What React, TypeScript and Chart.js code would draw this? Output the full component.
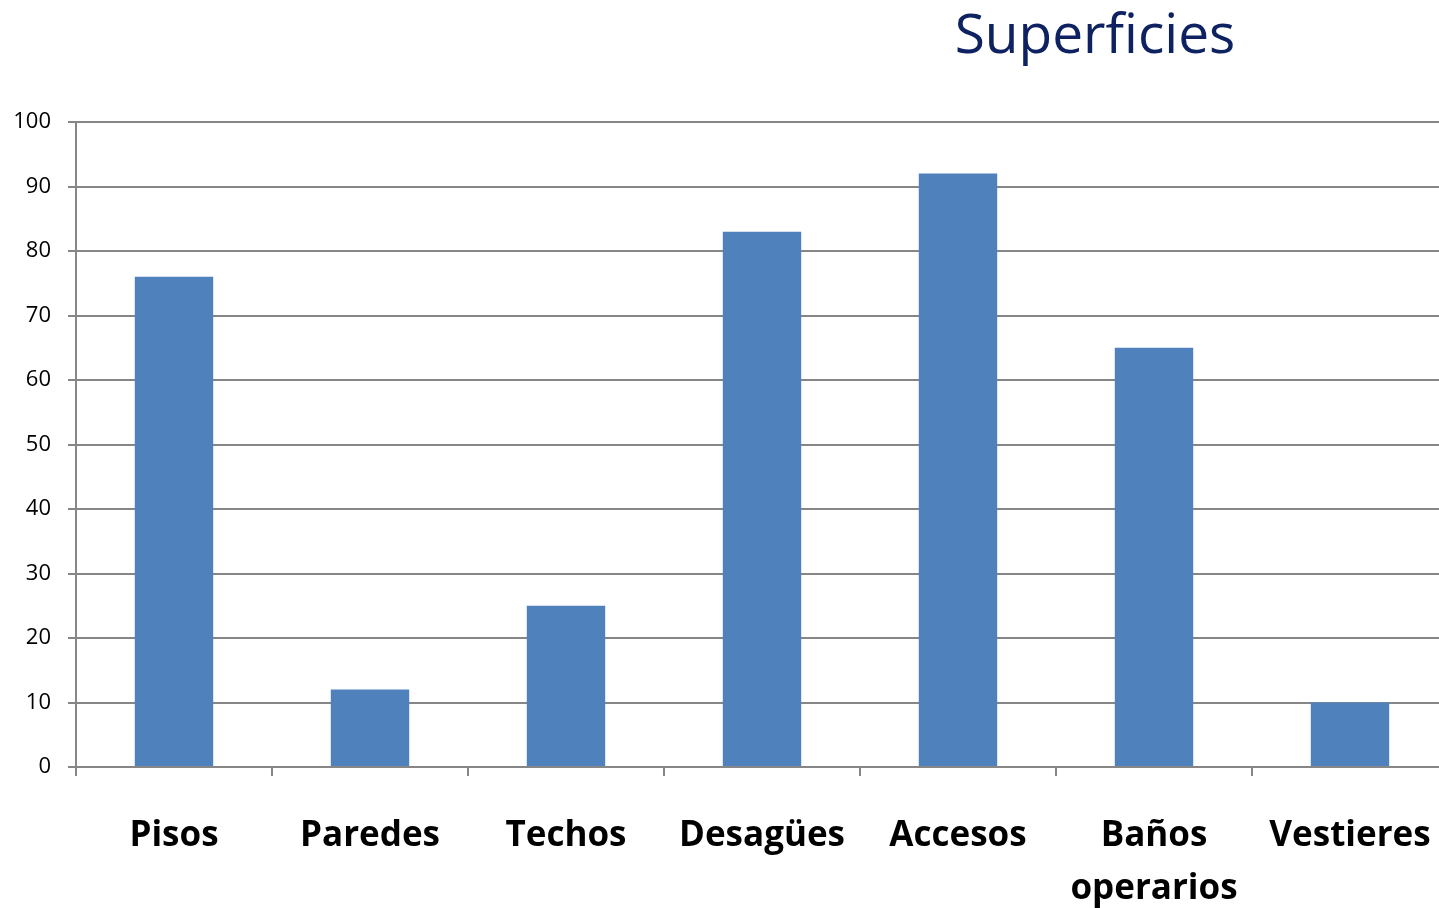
import React, { useEffect, useRef } from "react";
import { Chart, registerables } from "chart.js";

Chart.register(...registerables);

const categories: (string | string[])[] = [
  "Pisos",
  "Paredes",
  "Techos",
  "Desagües",
  "Accesos",
  ["Baños", "operarios"],
  "Vestieres",
];
const values: number[] = [76, 12, 25, 83, 92, 65, 10];
const yTicks: number[] = [0, 10, 20, 30, 40, 50, 60, 70, 80, 90, 100];
const titleText = "Superficies";

const FONT = "'Open Sans', 'Noto Sans', sans-serif";

const titlePlugin = {
  id: "sideTitle",
  afterDraw(chart: any) {
    const ctx = chart.ctx;
    ctx.save();
    ctx.font = `55px ${FONT}`;
    ctx.fillStyle = "#0E2262";
    ctx.textAlign = "center";
    ctx.textBaseline = "alphabetic";
    ctx.fillText(titleText, 1095, 53);
    ctx.restore();
  },
};

export default function App() {
  const ref = useRef<HTMLCanvasElement | null>(null);
  useEffect(() => {
    if (!ref.current) return;
    const chart = new Chart(ref.current, {
      type: "bar",
      data: {
        labels: categories,
        datasets: [
          {
            data: values,
            backgroundColor: "#4F81BD",
            borderWidth: 0,
            barPercentage: 0.4,
            categoryPercentage: 1,
          },
        ],
      },
      options: {
        responsive: false,
        animation: false,
        layout: { padding: { top: 122, left: 0, right: 18, bottom: 0 } },
        plugins: {
          legend: { display: false },
          tooltip: { enabled: false },
          title: { display: false },
        },
        scales: {
          x: {
            offset: true,
            grid: {
              offset: true,
              drawOnChartArea: false,
              drawTicks: true,
              tickLength: 9,
              color: "#868686",
              lineWidth: 2,
            },
            border: { color: "#868686", width: 2 },
            ticks: {
              color: "#000000",
              font: { family: FONT, size: 35, weight: "bold", lineHeight: 1.5 },
              padding: 34,
              maxRotation: 0,
              autoSkip: false,
            },
            afterFit(scale: any) {
              scale.height = 908 - 767;
              scale.paddingLeft = 0;
              scale.paddingRight = 0;
            },
          },
          y: {
            min: 0,
            max: 100,
            afterBuildTicks(scale: any) {
              scale.ticks = yTicks.map((v) => ({ value: v }));
            },
            grid: {
              color: "#868686",
              lineWidth: 2,
              drawTicks: true,
              tickLength: 8,
            },
            border: { color: "#868686", width: 2 },
            ticks: {
              color: "#000000",
              font: { family: FONT, size: 22 },
              padding: 17,
            },
            afterFit(scale: any) {
              scale.width = 76;
            },
          },
        },
      },
      plugins: [titlePlugin],
    });
    return () => chart.destroy();
  }, []);
  return (
    <div
      style={{
        position: "fixed",
        left: 0,
        top: 0,
        width: 1439,
        height: 908,
        overflow: "hidden",
        background: "#ffffff",
      }}
    >
      <canvas ref={ref} width={1466} height={908} style={{ display: "block" }} />
    </div>
  );
}
